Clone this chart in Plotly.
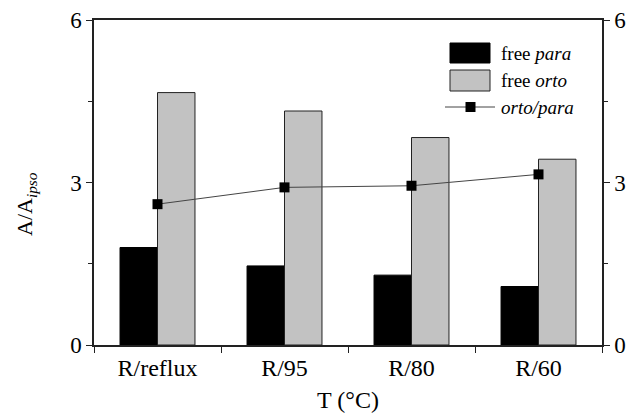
import plotly.graph_objects as go

# Reaction conditions and measured peak-area ratios
categories = ["R/reflux", "R/95", "R/80", "R/60"]
free_para = [1.80, 1.46, 1.29, 1.08]
free_orto = [4.66, 4.32, 3.83, 3.43]
orto_para = [2.60, 2.91, 2.94, 3.15]
y_ticks = [0, 3, 6]

FONT = "Liberation Serif"
W, H = 628, 414
L, R, T, B = 94, 26, 20, 69


def px_x(px):
    return (px - L) / (W - L - R)


def px_y(py):
    return (H - B - py) / (H - T - B)


fig = go.Figure()
fig.add_trace(go.Bar(
    x=categories, y=free_para, name="free para",
    marker=dict(color="black", line=dict(color="black", width=1)),
))
fig.add_trace(go.Bar(
    x=categories, y=free_orto, name="free orto",
    marker=dict(color="#c2c2c2", line=dict(color="#222", width=1)),
))
fig.add_trace(go.Scatter(
    x=categories, y=orto_para, name="orto/para", yaxis="y2",
    mode="lines+markers",
    line=dict(color="#444", width=1),
    marker=dict(symbol="square", size=10, color="black"),
))

axis_common = dict(
    showline=True, linecolor="#222", linewidth=1.5,
    ticks="outside", ticklen=6, tickwidth=1.2, tickcolor="#222",
    showgrid=False, zeroline=False, automargin=False,
)

# Hand-drawn legend
shapes = [
    dict(type="rect", xref="paper", yref="paper",
         x0=px_x(450), x1=px_x(490), y0=px_y(63), y1=px_y(43),
         fillcolor="black", line=dict(color="black", width=1)),
    dict(type="rect", xref="paper", yref="paper",
         x0=px_x(450), x1=px_x(490), y0=px_y(91), y1=px_y(70),
         fillcolor="#c2c2c2", line=dict(color="#222", width=1)),
    dict(type="line", xref="paper", yref="paper",
         x0=px_x(445), x1=px_x(495), y0=px_y(107), y1=px_y(107),
         line=dict(color="#444", width=1)),
    dict(type="rect", xref="paper", yref="paper",
         x0=px_x(465.5), x1=px_x(475.5), y0=px_y(112), y1=px_y(102),
         fillcolor="black", line=dict(color="black", width=0)),
]
legend_text = ["free <i>para</i>", "free <i>orto</i>", "<i>orto/para</i>"]
legend_y = [53, 80, 107]
annotations = [
    dict(text=t, xref="paper", yref="paper", x=px_x(499), y=px_y(yy),
         xanchor="left", yanchor="middle", showarrow=False,
         font=dict(family=FONT, size=19, color="black"))
    for t, yy in zip(legend_text, legend_y)
]
# Y-axis title
annotations.append(dict(
    text="A/A<sub><i>ipso</i></sub>", textangle=-90,
    xref="paper", yref="paper", x=px_x(26), y=px_y(204),
    xanchor="center", yanchor="middle", showarrow=False,
    font=dict(family=FONT, size=22, color="black"),
))

fig.update_layout(
    width=W, height=H,
    margin=dict(l=L, r=R, t=T, b=B),
    paper_bgcolor="white", plot_bgcolor="white",
    barmode="group", bargap=0.41, bargroupgap=0,
    showlegend=False,
    shapes=shapes, annotations=annotations,
    xaxis=dict(
        **axis_common, type="category", range=[-0.5, 3.5],
        tickson="boundaries", mirror=True, ticklabelstandoff=0,
        tickfont=dict(family=FONT, size=24, color="black"),
        title=dict(text="T (°C)", font=dict(family=FONT, size=24, color="black"),
                   standoff=12),
    ),
    yaxis=dict(
        **axis_common, range=[0, 6], tickvals=y_ticks,
        tickfont=dict(family=FONT, size=23, color="black"),
        minor=dict(tickvals=[1.5, 4.5], ticks="outside", ticklen=4,
                   tickcolor="#222"),
    ),
    yaxis2=dict(
        **axis_common, range=[0, 6], tickvals=y_ticks, overlaying="y",
        side="right",
        tickfont=dict(family=FONT, size=23, color="black"),
        minor=dict(tickvals=[1.5, 4.5], ticks="outside", ticklen=4,
                   tickcolor="#222"),
    ),
)

fig.write_html("out.html")
